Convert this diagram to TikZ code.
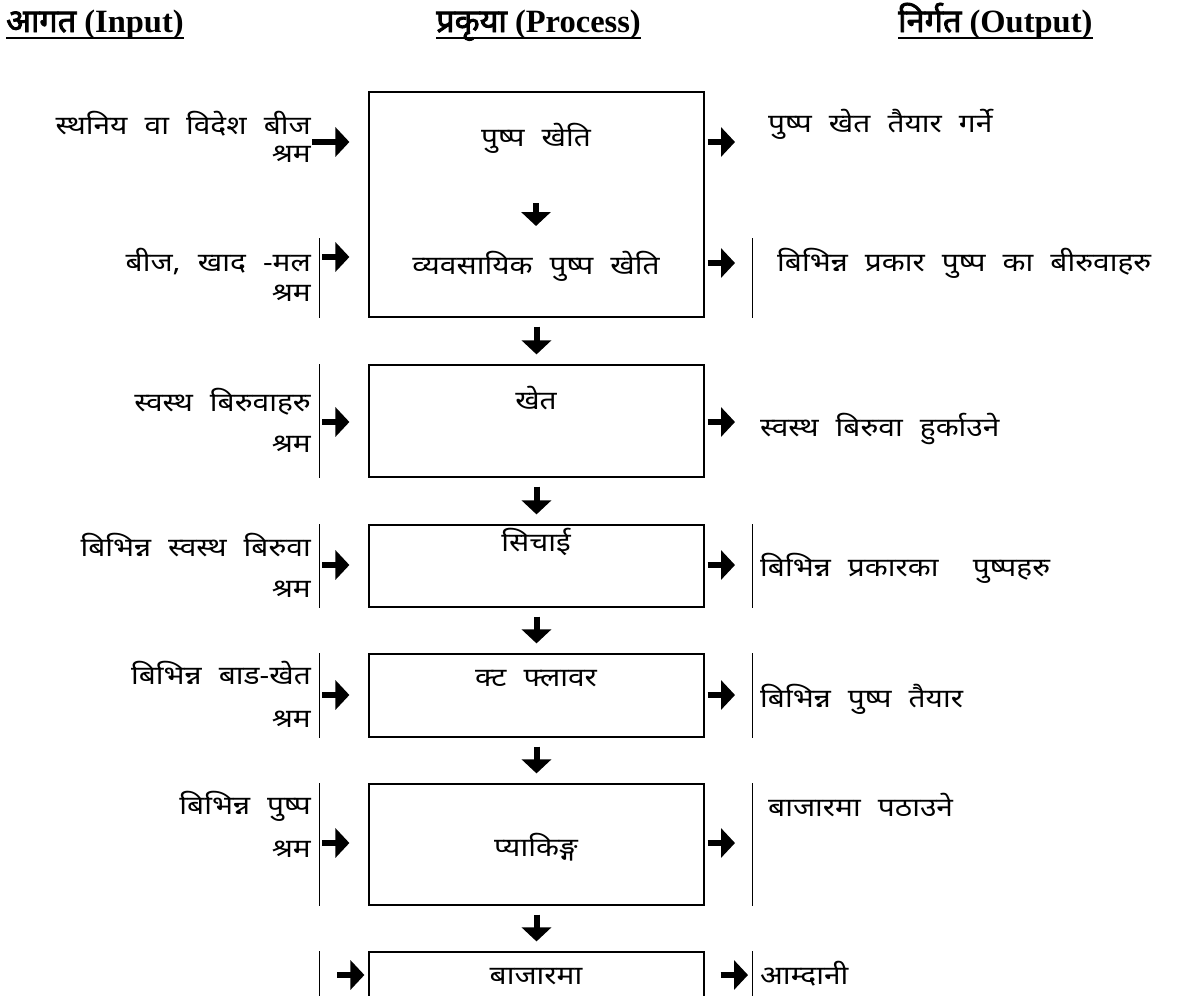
\documentclass[tikz,border=0pt]{standalone}
\usepackage{fontspec}
\setmainfont{Liberation Serif}
\newfontfamily\deva[Script=Devanagari, FakeStretch=1.15, WordSpace=2.2]{Noto Sans}
\newfontfamily\devahead[Script=Devanagari, FakeBold=2.5]{Noto Sans}
\usetikzlibrary{arrows.meta}

\begin{document}
\begin{tikzpicture}[
  x=1pt, y=-1pt,
  head/.style = {inner sep=0pt, anchor=base west, font=\fontsize{32.5}{36}\selectfont\bfseries},
  box/.style  = {draw, line width=1.2pt, inner sep=0pt, minimum width=335pt},
  txt/.style  = {inner sep=0pt, font=\deva\fontsize{26}{30}\selectfont},
  intxt/.style  = {txt, anchor=base east},
  outtxt/.style = {txt, anchor=base west},
  boxtxt/.style = {txt, anchor=base},
  bar/.style  = {line width=1.2pt},
  rarr/.style = {line width=6pt, -{Triangle[length=14pt,width=29pt]}},
  darr/.style = {rarr, shorten <=9pt, shorten >=10pt}
]
  \useasboundingbox (0,0) rectangle (1181,996);

  % ---- Headings ----
  \node[head] at (6,32)   (hin)   {{\devahead आगत} (Input)};
  \node[head] at (436,32) (hproc) {{\devahead प्रकृया} (Process)};
  \node[head] at (898,32) (hout)  {{\devahead निर्गत} (Output)};
  \draw[line width=2pt] ([yshift=-6pt]hin.base west)   -- ([yshift=-6pt]hin.base east);
  \draw[line width=2pt] ([yshift=-6pt]hproc.base west) -- ([yshift=-6pt]hproc.base east);
  \draw[line width=2pt] ([yshift=-6pt]hout.base west)  -- ([yshift=-6pt]hout.base east);

  % ---- Process boxes ----
  \node[box, minimum height=225pt] at (536.5,204.5)  (box1) {};
  \node[box, minimum height=112pt] at (536.5,421)    (box2) {};
  \node[box, minimum height=82pt]  at (536.5,566)    (box3) {};
  \node[box, minimum height=83pt]  at (536.5,695.5)  (box4) {};
  \node[box, minimum height=121pt] at (536.5,844.5)  (box5) {};
  \node[box, minimum height=100pt] at (536.5,1002)   (box6) {};

  \node[boxtxt] at (536,146) (flower)   {पुष्प खेति};
  \node[boxtxt] at (536,274) (business) {व्यवसायिक पुष्प खेति};
  \node[boxtxt] at (536,409) (field)    {खेत};
  \node[boxtxt] at (536,551) (irrig)    {सिचाई};
  \node[boxtxt] at (536,686) (cut)      {क्ट फ्लावर};
  \node[boxtxt] at (536,856) (pack)     {प्याकिङ्ग};
  \node[boxtxt] at (536,984) (market)   {बाजारमा};

  % ---- Inputs ----
  \node[intxt] at (311,134) (in1a) {स्थनिय वा विदेश बीज};
  \node[intxt] at (311,162) (in1b) {श्रम};
  \node[intxt] at (311,271) (in2a) {बीज, खाद -मल};
  \node[intxt] at (311,301) (in2b) {श्रम};
  \node[intxt] at (311,411) (in3a) {स्वस्थ बिरुवाहरु};
  \node[intxt] at (311,452) (in3b) {श्रम};
  \node[intxt] at (311,556) (in4a) {बिभिन्न स्वस्थ बिरुवा};
  \node[intxt] at (311,597) (in4b) {श्रम};
  \node[intxt] at (311,684) (in5a) {बिभिन्न बाड-खेत};
  \node[intxt] at (311,727) (in5b) {श्रम};
  \node[intxt] at (311,814) (in6a) {बिभिन्न पुष्प};
  \node[intxt] at (311,857) (in6b) {श्रम};

  % ---- Outputs ----
  \node[outtxt] at (768,132) (out1) {पुष्प खेत तैयार गर्ने};
  \node[outtxt] at (777,271) (out2) {बिभिन्न प्रकार पुष्प का बीरुवाहरु};
  \node[outtxt] at (760,436) (out3) {स्वस्थ बिरुवा हुर्काउने};
  \node[outtxt] at (760,576) (out4) {बिभिन्न प्रकारका \ पुष्पहरु};
  \node[outtxt] at (760,707) (out5) {बिभिन्न पुष्प तैयार};
  \node[outtxt] at (768,816) (out6) {बाजारमा पठाउने};
  \node[outtxt] at (760,984) (out7) {आम्दानी};

  % ---- Side bars ----
  \draw[bar] ([xshift=-49pt]box1.south west) -- ++(0,-80);
  \draw[bar] ([xshift=48pt]box1.south east)  -- ++(0,-80);
  \draw[bar] ([xshift=-49pt]box2.north west) -- ([xshift=-49pt]box2.south west);
  \draw[bar] ([xshift=-49pt]box3.north west) -- ([xshift=-49pt]box3.south west);
  \draw[bar] ([xshift=48pt]box3.north east)  -- ([xshift=48pt]box3.south east);
  \draw[bar] ([xshift=-49pt]box4.north west) -- ([xshift=-49pt]box4.south west);
  \draw[bar] ([xshift=48pt]box4.north east)  -- ([xshift=48pt]box4.south east);
  \draw[bar] ([xshift=-49pt]box5.north west) -- ([xshift=-49pt]box5.south west);
  \draw[bar] ([xshift=48pt]box5.north east)  -- ([xshift=48pt]box5.south east);
  \draw[bar] ([xshift=-49pt]box6.north west) -- ([xshift=-49pt]box6.south west);
  \draw[bar] ([xshift=48pt]box6.north east)  -- ([xshift=48pt]box6.south east);

  % ---- Arrow ends ----
  \coordinate (la1) at (312,142);
  \coordinate (la2) at (322,257);
  \coordinate (la3) at (322,422);
  \coordinate (la4) at (322,565);
  \coordinate (la5) at (322,695);
  \coordinate (la6) at (322,843);
  \coordinate (la7) at (337,975);
  \coordinate (ra1) at (735,142);
  \coordinate (ra2) at (735,263);
  \coordinate (ra3) at (735,422);
  \coordinate (ra4) at (735,565);
  \coordinate (ra5) at (735,695);
  \coordinate (ra6) at (735,843);
  \coordinate (ra7) at (748,975);

  % ---- Input arrows ----
  \draw[rarr, shorten >=19pt] (la1) -- (box1.west |- la1);
  \draw[rarr, shorten >=19pt] (la2) -- (box1.west |- la2);
  \draw[rarr, shorten >=19pt] (la3) -- (box2.west |- la3);
  \draw[rarr, shorten >=19pt] (la4) -- (box3.west |- la4);
  \draw[rarr, shorten >=19pt] (la5) -- (box4.west |- la5);
  \draw[rarr, shorten >=19pt] (la6) -- (box5.west |- la6);
  \draw[rarr, shorten >=4pt]  (la7) -- (box6.west |- la7);

  % ---- Output arrows ----
  \draw[rarr, shorten <=3pt]  (box1.east |- ra1) -- (ra1);
  \draw[rarr, shorten <=3pt]  (box1.east |- ra2) -- (ra2);
  \draw[rarr, shorten <=3pt]  (box2.east |- ra3) -- (ra3);
  \draw[rarr, shorten <=3pt]  (box3.east |- ra4) -- (ra4);
  \draw[rarr, shorten <=3pt]  (box4.east |- ra5) -- (ra5);
  \draw[rarr, shorten <=3pt]  (box5.east |- ra6) -- (ra6);
  \draw[rarr, shorten <=16pt] (box6.east |- ra7) -- (ra7);

  % ---- Process arrows ----
  \draw[rarr, shorten <=57pt, shorten >=48pt] (flower.base) -- (business.base);
  \draw[darr] (box1) -- (box2);
  \draw[darr] (box2) -- (box3);
  \draw[darr] (box3) -- (box4);
  \draw[darr] (box4) -- (box5);
  \draw[darr] (box5) -- (box6);
\end{tikzpicture}
\end{document}
